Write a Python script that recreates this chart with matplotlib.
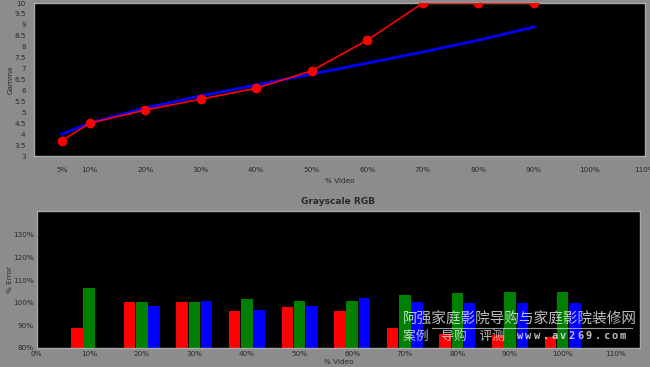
import matplotlib.pyplot as plt
import numpy as np

# === data ===
gamma_x = [5, 10, 20, 30, 40, 50, 60, 70, 80, 90]
gamma_measured = [3.7, 4.5, 5.1, 5.6, 6.1, 6.9, 8.3, 10.0, 10.0, 10.0]
gamma_target = [4.0, 4.5, 5.2, 5.75, 6.25, 6.75, 7.25, 7.76, 8.3, 8.9]
gamma_xticks = [5, 10, 20, 30, 40, 50, 60, 70, 80, 90, 100, 110]
gamma_yticks = [3, 3.5, 4, 4.5, 5, 5.5, 6, 6.5, 7, 7.5, 8, 8.5, 9, 9.5, 10]

rgb_x = [10, 20, 30, 40, 50, 60, 70, 80, 90, 100]
rgb_red = [88.7, 100.4, 100.4, 96.5, 98.3, 96.4, 89.0, 86.0, 85.8, 84.7]
rgb_green = [106.4, 100.3, 100.2, 101.5, 100.9, 100.9, 103.3, 104.5, 104.6, 104.9]
rgb_blue = [np.nan, 98.6, 100.6, 96.8, 98.4, 102.0, 100.5, 100.0, 100.0, 100.0]
rgb_xticks = [0, 10, 20, 30, 40, 50, 60, 70, 80, 90, 100, 110]
rgb_yticks = [80, 90, 100, 110, 120, 130]

bg = '#8c8c8c'
txt = '#2a2a2a'
spine_col = '#a8a8a8'

fig = plt.figure(figsize=(6.5, 3.67), dpi=100, facecolor=bg)

# === Gamma ===
ax1 = fig.add_axes([34 / 650, 1 - 156 / 367, (645 - 34) / 650, 153 / 367])
ax1.set_facecolor('black')
ax1.plot(gamma_x, gamma_target, color='#0000ff', lw=2.0, zorder=2)
ax1.plot(gamma_x, gamma_measured, color='#ff0000', lw=1.2, marker='o',
         markersize=7, markeredgewidth=0, zorder=3)
ax1.set_xlim(0, 110)
ax1.set_ylim(3, 10)
ax1.set_xticks(gamma_xticks)
ax1.set_xticklabels([f"{v}%" for v in gamma_xticks])
ax1.set_yticks(gamma_yticks)
ax1.set_yticklabels([f"{v:g}" for v in gamma_yticks])
ax1.tick_params(length=0, labelsize=5.2, labelcolor=txt, pad=8)
ax1.tick_params(axis='y', pad=6)
ax1.set_ylabel('Gamma', fontsize=5.2, color=txt)
ax1.set_xlabel('% Video', fontsize=5.2, color=txt)
ax1.yaxis.set_label_coords(-0.033, 0.5)
ax1.xaxis.set_label_coords(0.5, -0.147)
for s in ax1.spines.values():
    s.set_color(spine_col)
    s.set_linewidth(1)

# === Grayscale RGB ===
ax2 = fig.add_axes([36.5 / 650, 1 - 348 / 367, (640 - 36.5) / 650, 137 / 367])
ax2.set_facecolor('black')
w = 2.2
xs = np.array(rgb_x)
ax2.bar(xs - 2.33, np.array(rgb_red) - 80, width=w, bottom=80, color='#ff0000')
ax2.bar(xs, np.array(rgb_green) - 80, width=w, bottom=80, color='#008000')
ax2.bar(xs + 2.33, np.array(rgb_blue) - 80, width=w, bottom=80, color='#0000ff')
ax2.set_xlim(0, 114.7)
ax2.set_ylim(80, 140.5)
ax2.set_xticks(rgb_xticks)
ax2.set_xticklabels([f"{v}%" for v in rgb_xticks])
ax2.set_yticks(rgb_yticks)
ax2.set_yticklabels([f"{v}%" for v in rgb_yticks])
ax2.tick_params(length=0, labelsize=5.2, labelcolor=txt, pad=2)
ax2.set_ylabel('% Error', fontsize=5.2, color=txt)
ax2.set_xlabel('% Video', fontsize=5.2, color=txt)
ax2.yaxis.set_label_coords(-0.039, 0.5)
ax2.xaxis.set_label_coords(0.5, -0.078)
ax2.set_title('Grayscale RGB', fontsize=6.5, fontweight='bold', color=txt, pad=5)
for s in ax2.spines.values():
    s.set_color(spine_col)
    s.set_linewidth(1)

# === watermark ===
cjk = ['Noto Sans CJK SC', 'DejaVu Sans']
wm = dict(color='white', alpha=0.75, family=cjk, va='center')
fig.text(403 / 650, 1 - 320 / 367, '阿强家庭影院导购与家庭影院装修网', fontsize=10.5, **wm)
fig.text(403 / 650, 1 - 336 / 367, '案例\u3000导购\u3000评测', fontsize=9.2, **wm)
for i, ch in enumerate('www.av269.com'):
    fig.text((520 + i * 8.6) / 650, 1 - 336 / 367, ch, color='white', alpha=0.75,
             fontsize=7.5, family='DejaVu Sans Mono', fontweight='bold',
             ha='center', va='center')
fig.add_artist(plt.Line2D([432 / 650, 632 / 650], [1 - 327.5 / 367, 1 - 327.5 / 367],
                          color='white', alpha=0.6, lw=0.8))

fig.savefig('out.png', dpi=100, facecolor=bg)
